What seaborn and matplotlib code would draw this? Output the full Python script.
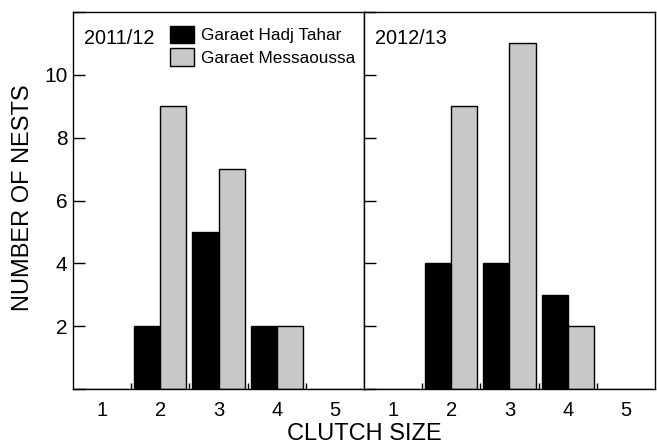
import matplotlib
matplotlib.use("Agg")
import matplotlib.pyplot as plt
from matplotlib.ticker import FixedLocator
import seaborn as sns
import pandas as pd

clutch_sizes = ["1", "2", "3", "4", "5"]
sites = ["Garaet Hadj Tahar", "Garaet Messaoussa"]
seasons = ["2011/12", "2012/13"]
hadj_2011 = [0, 2, 5, 2, 0]
mess_2011 = [0, 9, 7, 2, 0]
hadj_2012 = [0, 4, 4, 3, 0]
mess_2012 = [0, 9, 11, 2, 0]

series = {
    ("2011/12", sites[0]): hadj_2011,
    ("2011/12", sites[1]): mess_2011,
    ("2012/13", sites[0]): hadj_2012,
    ("2012/13", sites[1]): mess_2012,
}
rows = []
for (season, site), vals in series.items():
    for c, v in zip(clutch_sizes, vals):
        rows.append({"season": season, "site": site, "clutch": c, "nests": v})
df = pd.DataFrame(rows)

sns.set_style("ticks")
plt.rcParams["font.family"] = ["Liberation Sans", "DejaVu Sans"]
plt.rcParams.update({
    "text.color": "black", "axes.labelcolor": "black",
    "xtick.color": "black", "ytick.color": "black", "axes.edgecolor": "black",
})

fig = plt.figure(figsize=(6.57, 4.43), dpi=100)
W, H = 657, 443
axes = []
for i, season in enumerate(seasons):
    left = 73 + i * 291
    ax = fig.add_axes([left / W, (H - 389) / H, 291 / W, 377 / H])
    sub = df[df.season == season]
    sns.barplot(data=sub, x="clutch", y="nests", hue="site", order=clutch_sizes,
                hue_order=sites, palette=["#000000", "#c8c8c8"], width=0.9,
                edgecolor="black", linewidth=1.0, legend=(i == 0), ax=ax)
    ax.set_xlim(-0.5, 4.5)
    ax.set_ylim(0, 12)
    ax.set_yticks([0, 2, 4, 6, 8, 10, 12])
    if i == 0:
        ax.set_yticklabels(["", "2", "4", "6", "8", "10", ""])
    else:
        ax.set_yticklabels([])
    ax.tick_params(axis="y", direction="in", length=8.5, width=1, labelsize=15, pad=4)
    ax.tick_params(axis="x", which="major", length=0, labelsize=14.5, pad=9)
    ax.xaxis.set_minor_locator(FixedLocator([0.5, 1.5, 2.5, 3.5]))
    ax.tick_params(axis="x", which="minor", direction="in", length=4.5, width=1)
    ax.set_xlabel("")
    ax.set_ylabel("")
    for s in ax.spines.values():
        s.set_visible(True)
        s.set_linewidth(1.0)
        s.set_color("black")
    ax.text(0.038, 0.93, season, transform=ax.transAxes, fontsize=14.3,
            va="center", ha="left")
    axes.append(ax)

sns.move_legend(axes[0], loc="upper left", bbox_to_anchor=(0.31, 0.982),
                frameon=False, title=None, fontsize=12.3, handlelength=1.4,
                handleheight=1.2, labelspacing=0.3, handletextpad=0.4,
                borderaxespad=0)

fig.text(23 / W, (H - 198) / H, "NUMBER OF NESTS", rotation=90, fontsize=17,
         ha="center", va="center")
fig.text(364.5 / W, 3.5 / H, "CLUTCH SIZE", fontsize=17, ha="center", va="baseline")

fig.savefig("out.png", dpi=100)
